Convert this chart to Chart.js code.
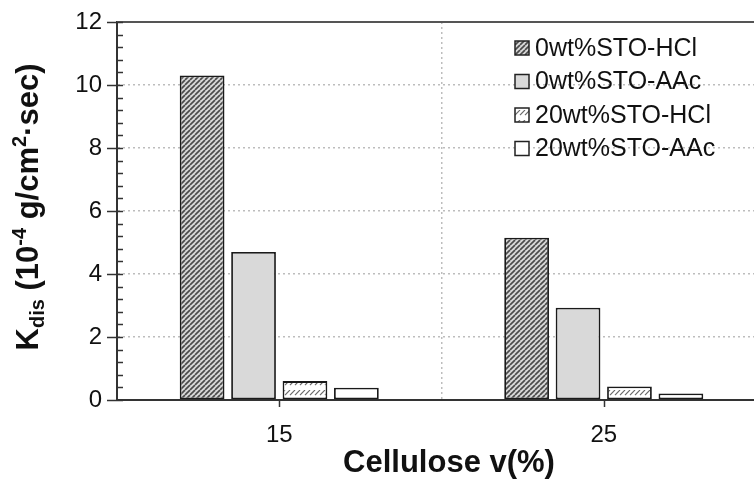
<!DOCTYPE html>
<html>
<head>
<meta charset="utf-8">
<script src="https://cdn.jsdelivr.net/npm/chart.js@4"></script>
<style>
  html, body { margin: 0; padding: 0; background: #fff; overflow: hidden; }
  #wrap { width: 772px; height: 482px; position: relative; }
</style>
</head>
<body>
<div id="wrap"><canvas id="kdisChart"></canvas></div>
<script>
const categories = ['15', '25'];
const seriesNames = ['0wt%STO-HCl', '0wt%STO-AAc', '20wt%STO-HCl', '20wt%STO-AAc'];
const hcl0 = [10.3, 5.15];
const aac0 = [4.7, 2.93];
const hcl20 = [0.6, 0.43];
const aac20 = [0.39, 0.21];
const yMin = 0;
const yMax = 12;
const yStep = 2;
const yMinorStep = 0.4;
const xTitle = 'Cellulose v(%)';
// y title pieces: [text, kind] kind: n = normal, sub, sup
const yTitleParts = [['K', 'n'], ['dis', 'sub'], [' (10', 'n'], ['-4', 'sup'], [' g/cm', 'n'], ['2', 'sup'], ['·sec)', 'n']];

const FONT = '"Liberation Sans", Arial, sans-serif';

function hatchDense() {
    const c = document.createElement('canvas');
    c.width = 5; c.height = 5;
    const g = c.getContext('2d');
    g.fillStyle = '#d8d8d8';
    g.fillRect(0, 0, 5, 5);
    g.strokeStyle = '#4a4a4a';
    g.lineWidth = 1.7;
    for (let k = -1; k <= 1; k++) {
        g.beginPath();
        g.moveTo(k * 5, 5);
        g.lineTo(k * 5 + 5, 0);
        g.stroke();
    }
    return g.createPattern(c, 'repeat');
}

function hatchDashed() {
    const c = document.createElement('canvas');
    c.width = 5; c.height = 10;
    const g = c.getContext('2d');
    g.fillStyle = '#ffffff';
    g.fillRect(0, 0, 5, 10);
    g.strokeStyle = '#6a6a6a';
    g.lineWidth = 1.2;
    for (let k = -1; k <= 1; k++) {
        g.beginPath();
        g.moveTo(k * 5, 5);
        g.lineTo(k * 5 + 5, 0);
        g.stroke();
    }
    return g.createPattern(c, 'repeat');
}

const fills = [hatchDense(), '#d9d9d9', hatchDashed(), '#ffffff'];
const seriesValues = [hcl0, aac0, hcl20, aac20];

const extras = {
    id: 'extras',
    afterDraw(chart) {
        const ctx = chart.ctx;
        const area = chart.chartArea;
        const y = chart.scales.y;
        const x = chart.scales.x;
        ctx.save();
        // top frame line
        ctx.strokeStyle = '#555';
        ctx.lineWidth = 2;
        ctx.beginPath();
        ctx.moveTo(area.left, area.top);
        ctx.lineTo(area.right, area.top);
        ctx.stroke();
        // y major + minor ticks
        ctx.strokeStyle = '#333';
        ctx.lineWidth = 1.5;
        for (let v = yMin; v <= yMax + 1e-6; v += yMinorStep) {
            const py = Math.round(y.getPixelForValue(v)) + 0.5;
            const major = Math.abs(v / yStep - Math.round(v / yStep)) < 1e-6;
            ctx.beginPath();
            ctx.moveTo(major ? area.left - 10 : area.left, py);
            ctx.lineTo(area.left + 6, py);
            ctx.stroke();
        }
        // x ticks at category centres
        for (let i = 0; i < categories.length; i++) {
            const px = Math.round(x.getPixelForTick(i)) + 0.5;
            ctx.beginPath();
            ctx.moveTo(px, area.bottom);
            ctx.lineTo(px, area.bottom + 7);
            ctx.stroke();
        }
        // legend
        ctx.font = '25px ' + FONT;
        ctx.textBaseline = 'middle';
        ctx.textAlign = 'left';
        chart.data.datasets.forEach((ds, i) => {
            const cy = 48 + i * 33.5;
            ctx.fillStyle = ds.backgroundColor;
            ctx.fillRect(515, cy - 7, 14, 14);
            ctx.strokeStyle = '#222';
            ctx.lineWidth = 1.5;
            ctx.strokeRect(515, cy - 7, 14, 14);
            ctx.fillStyle = '#111';
            ctx.fillText(ds.label, 535, cy + 1);
        });
        // x axis title
        ctx.font = 'bold 31px ' + FONT;
        ctx.textAlign = 'center';
        ctx.fillStyle = '#111';
        ctx.fillText(xTitle, 449, 463);
        // y axis title with sub/superscripts
        const big = 'bold 31px ' + FONT;
        const small = 'bold 20px ' + FONT;
        let total = 0;
        yTitleParts.forEach(p => {
            ctx.font = p[1] === 'n' ? big : small;
            total += ctx.measureText(p[0]).width;
        });
        ctx.translate(38, 207);
        ctx.rotate(-Math.PI / 2);
        ctx.textBaseline = 'alphabetic';
        ctx.textAlign = 'left';
        let cx = -total / 2;
        yTitleParts.forEach(p => {
            ctx.font = p[1] === 'n' ? big : small;
            const dy = p[1] === 'sub' ? 6 : (p[1] === 'sup' ? -12 : 0);
            ctx.fillText(p[0], cx, dy);
            cx += ctx.measureText(p[0]).width;
        });
        ctx.restore();
    }
};

new Chart(document.getElementById('kdisChart'), {
    type: 'bar',
    data: {
        labels: categories,
        datasets: seriesNames.map((name, i) => ({
            label: name,
            data: seriesValues[i],
            backgroundColor: fills[i],
            borderColor: '#1a1a1a',
            borderWidth: 1.8,
            borderSkipped: false,
            barPercentage: 0.87,
            categoryPercentage: 0.634
        }))
    },
    options: {
        responsive: true,
        maintainAspectRatio: false,
        animation: false,
        layout: { padding: { top: 22, right: 6, left: 0, bottom: 0 } },
        plugins: {
            legend: { display: false },
            tooltip: { enabled: false }
        },
        scales: {
            x: {
                offset: true,
                grid: {
                    offset: true,
                    color: '#bdbdbd',
                    lineWidth: 1.5,
                    drawTicks: false
                },
                border: { display: true, color: '#333', width: 2, dash: [2, 3] },
                ticks: {
                    color: '#111',
                    font: { family: FONT, size: 24 },
                    padding: 21
                },
                afterFit(s) {
                    s.height = 82;
                    s.paddingLeft = 0;
                    s.paddingRight = 0;
                }
            },
            y: {
                min: yMin,
                max: yMax,
                ticks: {
                    stepSize: yStep,
                    color: '#111',
                    font: { family: FONT, size: 24 },
                    padding: 15
                },
                grid: {
                    color: ctx => (ctx.tick && (ctx.tick.value === yMin || ctx.tick.value === yMax)) ? 'rgba(0,0,0,0)' : '#bdbdbd',
                    lineWidth: 1.5,
                    drawTicks: false
                },
                border: { display: true, color: '#333', width: 2, dash: [2, 3] },
                afterFit(s) {
                    s.width = 117;
                    s.paddingTop = 0;
                    s.paddingBottom = 0;
                }
            }
        }
    },
    plugins: [extras]
});
</script>
</body>
</html>
